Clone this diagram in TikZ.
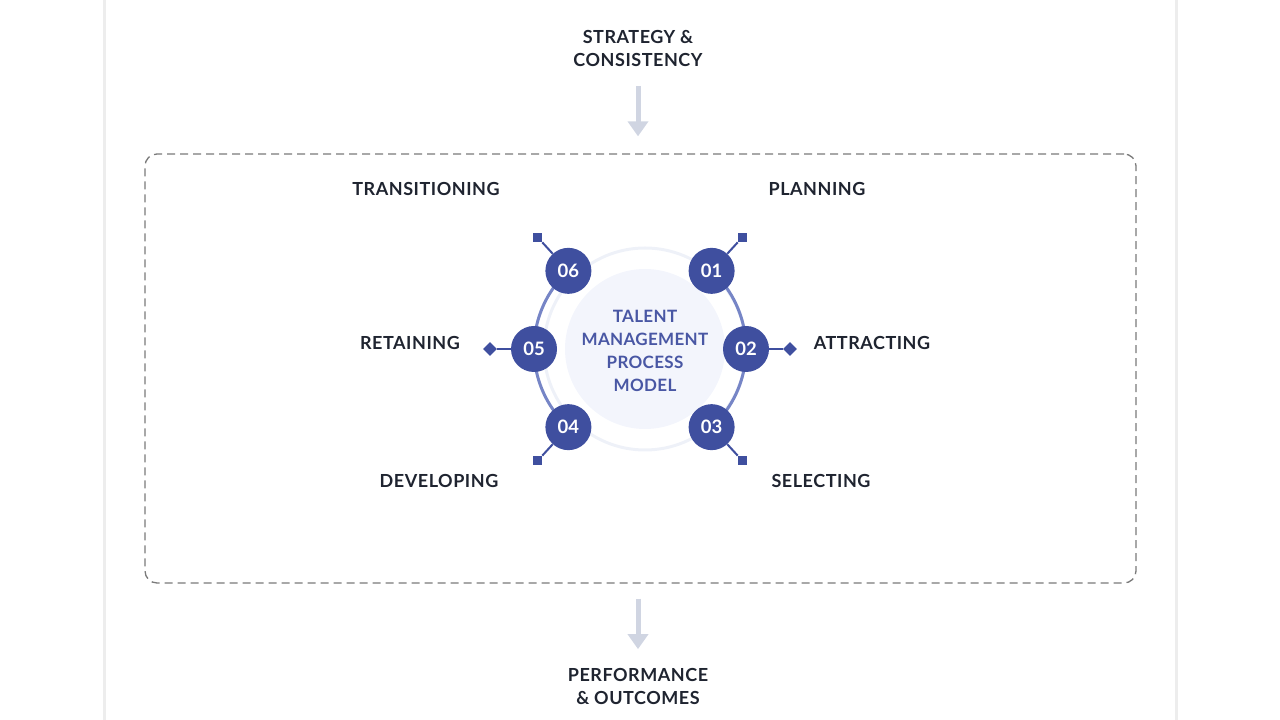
\documentclass[tikz,border=0pt]{standalone}
\usepackage{fontspec}
\setmainfont{Lato}
\usetikzlibrary{positioning, arrows.meta, calc, shapes.geometric}
\definecolor{ink}{HTML}{1F2430}
\definecolor{indigo}{HTML}{3F4F9F}
\definecolor{hubtext}{HTML}{4957A4}
\definecolor{ringblue}{HTML}{7685C6}
\definecolor{hubfill}{HTML}{F3F5FC}
\definecolor{hubring}{HTML}{EEF1F8}
\definecolor{arrowgrey}{HTML}{D0D5E2}
\definecolor{dashgrey}{HTML}{7A7A7A}
\definecolor{cardedge}{HTML}{EDEDED}

\begin{document}
\begin{tikzpicture}[
  x=1pt, y=1pt,
  title/.style={font=\bfseries\fontsize{18}{23}\selectfont\addfontfeature{LetterSpace=3},
                text=ink, align=center, inner sep=0pt},
  stage/.style={font=\bfseries\fontsize{18}{21}\selectfont\addfontfeature{LetterSpace=3},
                text=ink, inner sep=0pt},
  num/.style={circle, fill=indigo, minimum size=46pt, inner sep=0pt, text=white,
              font=\bfseries\fontsize{18.5}{18}\selectfont},
  tipsq/.style={rectangle, fill=indigo, minimum size=9pt, inner sep=0pt},
  tipdm/.style={diamond, fill=indigo, minimum size=14pt, inner sep=0pt},
  spoke/.style={draw=indigo, line width=2pt},
  flow/.style={draw=arrowgrey, line width=5pt, -{Triangle[width=20pt, length=15pt]}},
  frame/.style={draw=dashgrey, dash pattern=on 8pt off 5pt, rounded corners=12pt,
                line width=1.3pt, minimum width=991pt, minimum height=429pt}
]
  \useasboundingbox (0,0) rectangle (1280,720);

  % card edges
  \draw[cardedge, line width=3pt] (104,0) -- (104,720);
  \draw[cardedge, line width=3pt] (1176,0) -- (1176,720);

  % inputs and outputs
  \node[title] (strat) at (638,671.5) {STRATEGY \&\\CONSISTENCY};
  \node[title] (perf)  at (638,33.5)  {PERFORMANCE\\\& OUTCOMES};
  \node[frame] (frame) at (640.5,351.5) {};

  \draw[flow, shorten <=19pt, shorten >=17pt] (strat.south) -- (strat.south |- frame.north);
  \draw[flow, shorten <=15pt, shorten >=19pt] (perf.north |- frame.south) -- (perf.north);

  % hub
  \coordinate (hub) at (640,371);
  \draw[hubring, line width=3pt] (645,371) circle[radius=101];
  \node[circle, fill=hubfill, minimum size=160pt, inner sep=0pt] (core) at (645,371) {};
  \node[font=\bfseries\fontsize{17}{23}\selectfont\addfontfeature{LetterSpace=2}, text=hubtext, align=center]
    (hubtxt) at (645,369) {TALENT\\MANAGEMENT\\PROCESS\\MODEL};

  % cycle arcs
  \draw[ringblue, line width=3pt] ($(hub)+(-47.5:106)$) arc[start angle=-47.5, end angle=47.5, radius=106];
  \draw[ringblue, line width=3pt] ($(hub)+(132.5:106)$) arc[start angle=132.5, end angle=227.5, radius=106];

  % spoke tips
  \node[tipsq] (t1) at ($(hub)+(47.5:151)$)  {};
  \node[tipdm] (t2) at ($(hub)+(0:150)$)     {};
  \node[tipsq] (t3) at ($(hub)+(-47.5:151)$) {};
  \node[tipsq] (t4) at ($(hub)+(227.5:151)$) {};
  \node[tipdm] (t5) at ($(hub)+(180:150)$)   {};
  \node[tipsq] (t6) at ($(hub)+(132.5:151)$) {};

  % stage numbers
  \node[num] (n1) at ($(hub)+(47.5:106)$)  {01};
  \node[num] (n2) at ($(hub)+(0:106)$)     {02};
  \node[num] (n3) at ($(hub)+(-47.5:106)$) {03};
  \node[num] (n4) at ($(hub)+(227.5:106)$) {04};
  \node[num] (n5) at ($(hub)+(180:106)$)   {05};
  \node[num] (n6) at ($(hub)+(132.5:106)$) {06};

  \draw[spoke] (n1) -- (t1);
  \draw[spoke] (n2) -- (t2);
  \draw[spoke] (n3) -- (t3);
  \draw[spoke] (n4) -- (t4);
  \draw[spoke] (n5) -- (t5);
  \draw[spoke] (n6) -- (t6);

  % stage names
  \node[stage] (l1) at (817,531) {PLANNING};
  \node[stage] (l2) at (872,377) {ATTRACTING};
  \node[stage] (l3) at (821,239) {SELECTING};
  \node[stage] (l4) at (439,239) {DEVELOPING};
  \node[stage] (l5) at (410,377) {RETAINING};
  \node[stage] (l6) at (426,531) {TRANSITIONING};
\end{tikzpicture}
\end{document}
